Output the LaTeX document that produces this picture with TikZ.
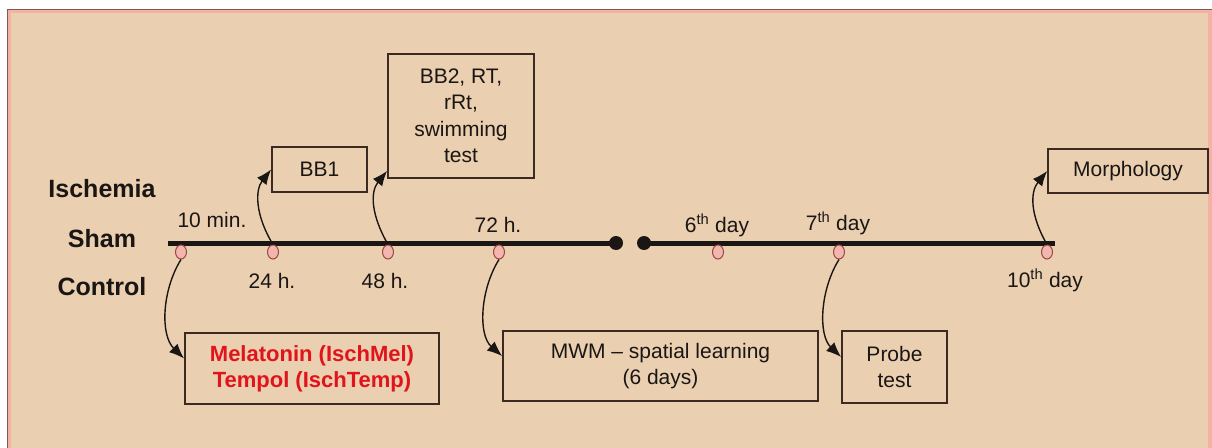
\documentclass[tikz,border=0pt]{standalone}
\usepackage{fontspec}
\setmainfont{Liberation Sans}
\usetikzlibrary{shapes.geometric,arrows.meta}
\definecolor{panel}{HTML}{EBCFB1}
\definecolor{rim}{HTML}{F4B2A2}
\definecolor{edge}{HTML}{7E5A50}
\definecolor{boxline}{HTML}{3A2A22}
\definecolor{ink}{HTML}{1A1614}
\definecolor{dotfill}{HTML}{F3B5B0}
\definecolor{dotline}{HTML}{9A4A40}
\definecolor{drug}{HTML}{E0141A}
\begin{document}
\begin{tikzpicture}[x=1pt,y=-1pt,
  stepbox/.style={draw=boxline, line width=1.8pt, align=center, text=ink,
    font=\fontsize{21}{26.5}\selectfont, inner sep=0pt},
  milestone/.style={ellipse, draw=dotline, fill=dotfill, line width=1pt,
    minimum width=11pt, minimum height=14pt, inner sep=0pt},
  stamp/.style={text=ink, font=\fontsize{21}{26}\selectfont, anchor=base, inner sep=0pt},
  group/.style={text=ink, font=\bfseries\fontsize{25}{30}\selectfont, anchor=base, inner sep=0pt},
  link/.style={line width=1.4pt, draw=ink, -{Latex[length=15pt,width=12pt]}}
]
\useasboundingbox (0,0) rectangle (1212,447);

% panel
\fill[white] (0,0) rectangle (1212,447);
\fill[rim] (7,9) rectangle (1220,455);
\fill[panel] (11,13) rectangle (1208,455);
\draw[edge, line width=1pt] (7.5,455) -- (7.5,9.5) -- (1220,9.5);

% group labels
\node[group] (isch) at (102,197) {Ischemia};
\node[group] (sham) at (102,247) {Sham};
\node[group] (ctrl) at (102,295) {Control};

% time axis with a break
\coordinate (tl0) at (168,243);
\coordinate (gapL) at (616,243);
\coordinate (gapR) at (644,243);
\coordinate (tl1) at (1055,243);
\draw[line width=5pt, ink] (tl0) -- (gapL);
\draw[line width=5pt, ink] (gapR) -- (tl1);
\fill[ink] (gapL) circle (7);
\fill[ink] (gapR) circle (7);

% milestones
\node[milestone] (m10) at (181,252) {};
\node[milestone] (m24) at (273,252) {};
\node[milestone] (m48) at (388,252) {};
\node[milestone] (m72) at (499,252) {};
\node[milestone] (m6)  at (718,252) {};
\node[milestone] (m7)  at (839,252) {};
\node[milestone] (m10d) at (1047,252) {};

% time labels
\node[stamp] (t10) at (212,227) {10 min.};
\node[stamp] (t24) at (272,288) {24 h.};
\node[stamp] (t48) at (385,288) {48 h.};
\node[stamp] (t72) at (498,232) {72 h.};
\node[stamp] (t6)  at (717,232) {6\textsuperscript{th} day};
\node[stamp] (t7)  at (838,230) {7\textsuperscript{th} day};
\node[stamp] (t10d) at (1045,287) {10\textsuperscript{th} day};

% procedure boxes
\node[stepbox, minimum width=95pt, minimum height=45pt] (bb1) at (319.5,169.5) {BB1};
\node[stepbox, minimum width=146pt, minimum height=124pt] (bb2) at (461,116)
  {BB2, RT,\\rRt,\\swimming\\test};
\node[stepbox, minimum width=160pt, minimum height=44pt] (morph) at (1128,171) {Morphology};
\node[stepbox, minimum width=254pt, minimum height=71pt, text=drug,
  font=\bfseries\fontsize{22}{26}\selectfont] (drugs) at (312,368.5)
  {Melatonin (IschMel)\\Tempol (IschTemp)};
\node[stepbox, minimum width=315pt, minimum height=70pt] (mwm) at (660.5,366)
  {MWM -- spatial learning\\(6 days)};
\node[stepbox, minimum width=105pt, minimum height=72pt] (probe) at (894.5,367)
  {Probe\\test};

% connectors
\draw[link] (m10.south) .. controls (162,290) and (160,335) .. ([yshift=10pt]drugs.west);
\draw[link] (m24.north) .. controls (255,215) and (255,190) .. (bb1.west);
\draw[link] (m48.north) .. controls (371,215) and (370,192) .. ([yshift=8pt]bb2.south west);
\draw[link] (m72.south) .. controls (480,290) and (478,335) .. ([yshift=10pt]mwm.west);
\draw[link] (m7.south) .. controls (820,290) and (818,335) .. ([yshift=10pt]probe.west);
\draw[link] (m10d.north) .. controls (1030,215) and (1030,192) .. (morph.west);
\end{tikzpicture}
\end{document}
